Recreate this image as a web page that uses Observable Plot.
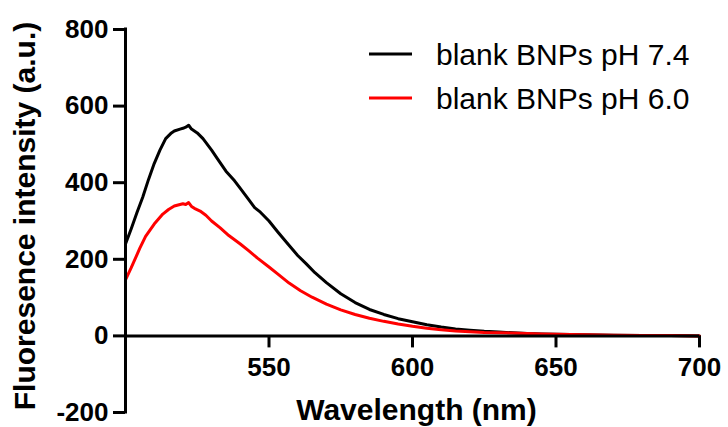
<!DOCTYPE html>
<html>
<head>
<meta charset="utf-8">
<script src="https://cdn.jsdelivr.net/npm/d3@7"></script>
<script src="https://cdn.jsdelivr.net/npm/@observablehq/plot@0.6"></script>
<style>
  html, body { margin: 0; padding: 0; background: #fff; }
  #chart { position: relative; width: 728px; height: 427px; }
</style>
</head>
<body>
<div id="chart"></div>
<script>
// ---- Data ----
const seriesNames = ["blank BNPs pH 7.4", "blank BNPs pH 6.0"];
const seriesColors = ["#000000", "#ff0000"];

const wlBlack = [500,502,504,506,508,510,512,514,516,517,519,520,521,522,523,524,525,527,530,532,535,538,540,543,545,547,550,553,556,560,563,566,570,575,580,585,590,595,600,605,610,615,620,625,630,635,640,645,650,660,670,680,690,700];
const fiBlack = [240,280,322,362,408,450,485,515,530,535,540,542,545,550,540,535,530,515,485,463,430,405,385,355,335,323,300,272,245,210,188,165,139,110,87,69,56,45,37,29,23,18,15,12,10,8,6,5,4,3,2,1,1,0];

const wlRed = [500,502,505,507,510,513,515,517,519,520,521,522,523,524,526,528,530,533,536,540,543,546,550,553,557,561,565,570,575,580,585,590,595,600,605,610,615,620,625,630,637,645,650,660,670,680,690,700];
const fiRed = [146,178,229,260,292,318,330,339,343,345,343,348,338,333,326,315,300,282,262,240,222,203,180,162,138,118,101,83,68,56,46,38,31,25,20,16,13,11,9,8,7,5,4,3,2,1,1,0];

const xTicks = [550, 600, 650, 700];
const yTicks = [-200, 0, 200, 400, 600, 800];
const xLabel = "Wavelength (nm)";
const yLabel = "Fluoresence intensity (a.u.)";

// ---- Build table ----
const rows = [
  ...wlBlack.map((w, i) => ({wl: w, fi: fiBlack[i], s: seriesNames[0]})),
  ...wlRed.map((w, i) => ({wl: w, fi: fiRed[i], s: seriesNames[1]}))
];

const FONT = "'Liberation Sans', Arial, Helvetica, sans-serif";

const plot = Plot.plot({
  width: 728,
  height: 427,
  marginLeft: 125,
  marginRight: 29,
  marginTop: 29,
  marginBottom: 15,
  style: {fontFamily: FONT, color: "#000", background: "#fff"},
  x: {domain: [500, 700]},
  y: {domain: [-200, 800]},
  color: {domain: seriesNames, range: seriesColors},
  marks: [
    Plot.axisY({ticks: yTicks, tickFormat: d => String(d), tickSize: 12, tickPadding: 5, strokeWidth: 3, fontSize: 26, fontWeight: "bold", label: null, fill: "#000", stroke: "#000"}),
    Plot.axisX({ticks: [], label: null}),
    Plot.line(rows, {x: "wl", y: "fi", z: "s", stroke: "s", strokeWidth: 3, strokeLinejoin: "round"}),
    Plot.ruleY([0], {stroke: "#000", strokeWidth: 3}),
    Plot.ruleX([500], {stroke: "#000", strokeWidth: 3, strokeLinecap: "square"}),
    Plot.ruleX(xTicks, {x: d => d, y1: 0, y2: 0, insetBottom: -12, stroke: "#000", strokeWidth: 3}),
    Plot.text(xTicks, {x: d => d, y: 0, text: d => String(d), dy: 22, lineAnchor: "top", fontSize: 26, fontWeight: "bold", fill: "#000"}),
    Plot.text([xLabel], {frameAnchor: "bottom", text: d => d, dx: 4, dy: -2, lineAnchor: "middle", textAnchor: "middle", fontSize: 30, fontWeight: "bold", fill: "#000"}),
    Plot.text([yLabel], {frameAnchor: "left", text: d => d, rotate: -90, dx: -100, dy: -5, lineAnchor: "middle", textAnchor: "middle", fontSize: 30, fontWeight: "bold", fill: "#000"})
  ]
});

document.getElementById("chart").appendChild(plot);

// ---- Legend (inside the SVG, top right) ----
const svg = d3.select(plot);
const lg = svg.append("g").attr("font-family", FONT).attr("text-anchor", "start");
seriesNames.forEach((name, i) => {
  const cy = 54 + i * 44;
  lg.append("line")
    .attr("x1", 369).attr("x2", 412).attr("y1", cy).attr("y2", cy)
    .attr("stroke", seriesColors[i]).attr("stroke-width", 3);
  lg.append("text")
    .attr("x", 436).attr("y", cy + 11)
    .attr("font-size", 30).attr("fill", "#000")
    .attr("text-anchor", "start")
    .text(name);
});
</script>
</body>
</html>
